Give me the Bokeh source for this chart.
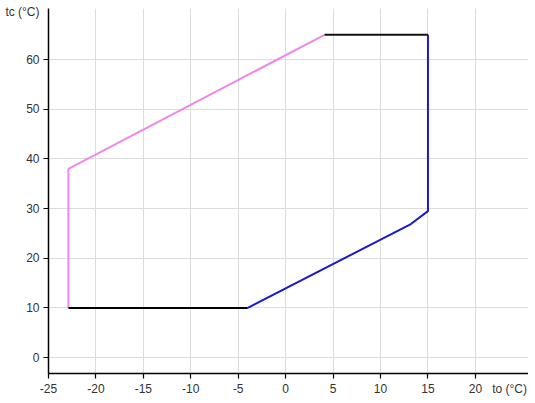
from bokeh.plotting import figure
from bokeh.models import Range1d, FixedTicker, CustomJSTickFormatter
from bokeh.embed import file_html
from bokeh.resources import INLINE

# Data
x_ticks = [-25, -20, -15, -10, -5, 0, 5, 10, 15, 20]
y_ticks = [0, 10, 20, 30, 40, 50, 60]
x_title, x_title_pos = "to (°C)", 23.6
y_title, y_title_pos = "tc (°C)", 69.5

black_low_x = [-22.9, -4.0]
black_low_y = [10, 10]
blue_x = [-4.0, 13.2, 15.0, 15.0]
blue_y = [10, 26.9, 29.5, 65]
black_top_x = [15.0, 4.1]
black_top_y = [65, 65]
violet_x = [4.1, -22.9, -22.9]
violet_y = [65, 38, 10]

FONT = "Liberation Sans"

p = figure(width=528, height=398, output_backend="svg", toolbar_location=None,
           x_range=Range1d(-25, 25.6), y_range=Range1d(-3.2, 70.3),
           min_border_left=48, min_border_right=0, min_border_top=8, min_border_bottom=24)
p.outline_line_color = None

def fmt(pos, title):
    return CustomJSTickFormatter(args=dict(pos=pos, title=title),
                                 code="return Math.abs(tick - pos) < 1e-6 ? title : String(tick);")

for ax in (p.xaxis[0], p.yaxis[0]):
    ax.axis_line_color = "black"
    ax.axis_line_width = 1.5
    ax.major_tick_out = 0
    ax.major_tick_in = 0
    ax.minor_tick_line_color = "black"
    ax.minor_tick_line_width = 1.2
    ax.minor_tick_out = 5
    ax.minor_tick_in = 0
    ax.major_label_text_font = FONT
    ax.major_label_text_font_size = "12px"
    ax.major_label_text_color = "#333333"

p.xaxis.ticker = FixedTicker(ticks=x_ticks + [x_title_pos], minor_ticks=x_ticks)
p.yaxis.ticker = FixedTicker(ticks=y_ticks + [y_title_pos], minor_ticks=y_ticks)
p.xaxis.formatter = fmt(x_title_pos, x_title)
p.yaxis.formatter = fmt(y_title_pos, y_title)
p.xaxis.major_label_standoff = 3
p.yaxis.major_label_standoff = 4

p.xgrid.grid_line_color = "#dcdcdc"
p.ygrid.grid_line_color = "#dcdcdc"
p.xgrid.ticker = FixedTicker(ticks=x_ticks[1:])
p.ygrid.ticker = FixedTicker(ticks=y_ticks)

p.line(violet_x, violet_y, line_color="#ee88e6", line_width=2)
p.line(black_low_x, black_low_y, line_color="black", line_width=2)
p.line(blue_x, blue_y, line_color="#1a1acc", line_width=2)
p.line(black_top_x, black_top_y, line_color="#111111", line_width=2)

open("out.html", "w").write(file_html(p, INLINE))
